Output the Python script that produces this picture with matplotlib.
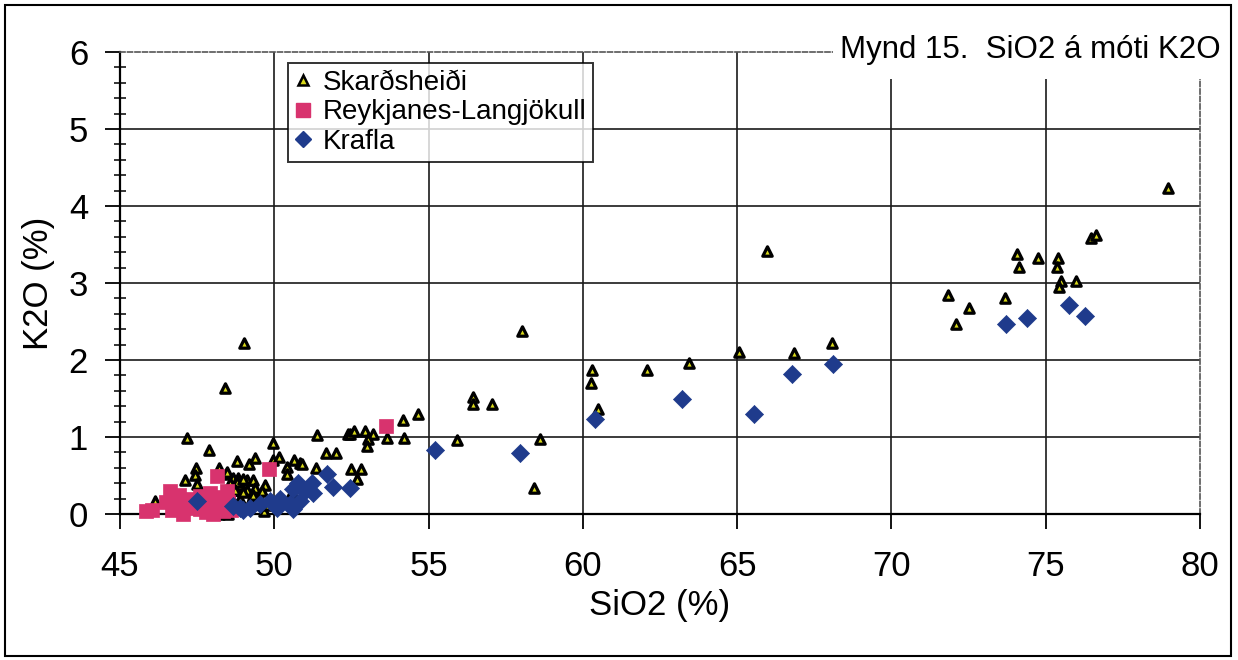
import matplotlib
matplotlib.use("Agg")
import matplotlib.pyplot as plt
from matplotlib.lines import Line2D
from matplotlib.patches import Rectangle
from matplotlib.ticker import MultipleLocator

plt.rcParams['font.family'] = ['Liberation Sans', 'DejaVu Sans']

# Skarðsheiði (SiO2 %, K2O %)
skard_sio2 = [46.13, 47.17, 47.88, 47.46, 47.43, 47.10, 47.50, 48.20, 48.43, 48.40,
              49.02, 48.79, 49.18, 49.37, 49.96, 49.96, 50.15, 50.64, 50.83, 51.35,
              51.38, 49.70, 49.67, 48.50, 48.20, 48.47, 48.66, 48.82, 49.12, 48.56,
              48.89, 49.12, 48.66, 48.79, 49.31, 49.37, 48.73, 50.74, 50.57, 50.41,
              50.41, 51.68, 52.00, 52.39, 48.90, 49.20, 49.50, 48.70, 49.80, 50.90,
              52.45, 52.58, 52.94, 53.20, 53.04, 53.00, 53.65, 54.20, 54.17, 54.66,
              55.92, 56.44, 56.44, 57.05, 58.60, 58.42, 52.49, 52.81, 52.68, 58.03,
              60.30, 60.26, 60.50, 62.08, 63.44, 65.06, 65.97, 66.84, 68.07, 71.83,
              72.09, 72.51, 73.68, 74.07, 74.13, 74.75, 75.40, 75.36, 75.49, 75.43,
              75.98, 76.47, 76.63, 78.96, 49.00, 49.30, 48.60, 49.60, 49.00]
skard_k2o = [0.17, 0.99, 0.83, 0.60, 0.51, 0.44, 0.39, 0.60, 0.52, 1.64,
             2.22, 0.69, 0.65, 0.73, 0.92, 0.70, 0.74, 0.70, 0.66, 0.60,
             1.03, 0.38, 0.04, 0.00, 0.00, 0.55, 0.47, 0.47, 0.44, 0.40,
             0.38, 0.31, 0.31, 0.42, 0.44, 0.34, 0.31, 0.35, 0.29, 0.61,
             0.52, 0.79, 0.79, 1.04, 0.20, 0.15, 0.22, 0.12, 0.12, 0.65,
             1.04, 1.08, 1.08, 1.04, 0.97, 0.88, 0.99, 0.99, 1.22, 1.30,
             0.96, 1.52, 1.43, 1.43, 0.98, 0.34, 0.59, 0.59, 0.46, 2.38,
             1.87, 1.70, 1.37, 1.87, 1.96, 2.11, 3.42, 2.09, 2.22, 2.84,
             2.47, 2.68, 2.81, 3.38, 3.21, 3.33, 3.33, 3.21, 3.03, 2.95,
             3.02, 3.58, 3.62, 4.24, 0.28, 0.25, 0.22, 0.30, 0.45]

# Reykjanes-Langjökull
reyk_sio2 = [45.85, 46.05, 46.62, 46.78, 46.94, 47.27, 47.59, 47.92, 48.24, 48.47,
             48.34, 48.00, 47.92, 47.04, 48.14, 49.83, 53.62, 47.30, 47.70, 48.50,
             46.50, 46.90, 47.10, 47.40, 47.60, 48.00, 48.30, 48.60, 46.70, 47.80]
reyk_k2o = [0.04, 0.05, 0.30, 0.21, 0.13, 0.08, 0.06, 0.13, 0.21, 0.30,
            0.04, 0.00, 0.27, 0.00, 0.49, 0.59, 1.14, 0.20, 0.15, 0.15,
            0.15, 0.25, 0.18, 0.12, 0.24, 0.22, 0.10, 0.05, 0.05, 0.03]

# Krafla
krafla_sio2 = [47.50, 48.66, 48.99, 48.89, 49.21, 49.54, 49.86, 50.18, 50.50, 50.09,
               50.60, 50.83, 51.00, 50.60, 50.77, 51.22, 51.25, 51.71, 51.90, 52.45,
               55.21, 57.95, 60.39, 63.21, 65.54, 66.78, 68.10, 73.71, 74.39, 75.75,
               76.27]
krafla_k2o = [0.17, 0.10, 0.05, 0.08, 0.08, 0.13, 0.17, 0.20, 0.13, 0.08,
              0.06, 0.17, 0.30, 0.33, 0.40, 0.40, 0.27, 0.52, 0.35, 0.34,
              0.83, 0.79, 1.24, 1.50, 1.30, 1.82, 1.95, 2.47, 2.55, 2.72,
              2.57]

x_ticks = [45, 50, 55, 60, 65, 70, 75, 80]
y_ticks = [0, 1, 2, 3, 4, 5, 6]

PINK = '#d8336e'
NAVY = '#1f3b8c'
TRI_FACE = '#d8d81a'

fig = plt.figure(figsize=(12.38, 6.60), dpi=100)
ax = fig.add_axes([0.0969, 0.2212, 0.8724, 0.700])

ax.set_xlim(45, 80)
ax.set_ylim(0, 6)

# interior grid lines only, the frame is drawn by the spines
for xv in x_ticks[1:-1]:
    ax.axvline(xv, color='#1a1a1a', lw=1.2, zorder=1)
for yv in y_ticks[1:-1]:
    ax.axhline(yv, color='#1a1a1a', lw=1.2, zorder=1)

ax.scatter(skard_sio2, skard_k2o, marker='^', s=46, facecolor=TRI_FACE,
           edgecolor='black', linewidths=2.3, zorder=3, clip_on=False)
ax.scatter(reyk_sio2, reyk_k2o, marker='s', s=115, facecolor=PINK,
           edgecolor=PINK, linewidths=0.5, zorder=4, clip_on=False)
ax.scatter(krafla_sio2, krafla_k2o, marker='D', s=85, facecolor=NAVY,
           edgecolor=NAVY, linewidths=0.5, zorder=5, clip_on=False)

ax.set_xticks(x_ticks)
ax.set_yticks(y_ticks)
ax.yaxis.set_minor_locator(MultipleLocator(0.2))
ax.tick_params(axis='both', which='major', direction='out', length=11,
               width=1.3, labelsize=25, color='black')
ax.tick_params(axis='x', which='major', pad=15)
ax.tick_params(axis='y', which='major', pad=12)
ax.tick_params(axis='y', which='minor', direction='inout', length=8, width=1.1)

for side in ['left', 'bottom']:
    ax.spines[side].set_color('black')
    ax.spines[side].set_linewidth(1.6)
for side in ['top', 'right']:
    ax.spines[side].set_color('#555555')
    ax.spines[side].set_linewidth(1.2)
    ax.spines[side].set_linestyle((0, (3, 1.5)))

ax.set_xlabel('SiO2 (%)', fontsize=25, labelpad=4)
ax.set_ylabel('K2O (%)', fontsize=25, labelpad=10)

handles = [
    Line2D([], [], ls='none', marker='^', ms=6.5, mfc=TRI_FACE, mec='black', mew=1.8),
    Line2D([], [], ls='none', marker='s', ms=10, mfc=PINK, mec=PINK),
    Line2D([], [], ls='none', marker='D', ms=8, mfc=NAVY, mec=NAVY),
]
leg = fig.legend(handles, ['Skarðsheiði', 'Reykjanes-Langjökull', 'Krafla'],
                 loc='upper left', bbox_to_anchor=(288 / 1238, 1 - 63 / 660),
                 borderaxespad=0, fontsize=20, frameon=True, fancybox=False,
                 handlelength=0.55, handletextpad=0.45, labelspacing=0.12,
                 borderpad=0.25)
leg.get_frame().set_edgecolor('black')
leg.get_frame().set_linewidth(1.4)
leg.set_zorder(10)

# white block behind the caption in the top right corner
fig.patches.append(Rectangle((833 / 1238, 1 - 79 / 660), 0.4, 0.06,
                             transform=fig.transFigure, facecolor='white',
                             edgecolor='none', zorder=5))
fig.text(840 / 1238, 1 - 58 / 660, 'Mynd 15.  SiO2 á móti K2O', fontsize=22.5,
         ha='left', va='baseline', zorder=6)

# page frame
fig.patches.append(Rectangle((5 / 1238, 4 / 660), 1226 / 1238, 651 / 660,
                             transform=fig.transFigure, facecolor='none',
                             edgecolor='black', lw=1.5, zorder=7))

fig.savefig('out.png', dpi=100)
